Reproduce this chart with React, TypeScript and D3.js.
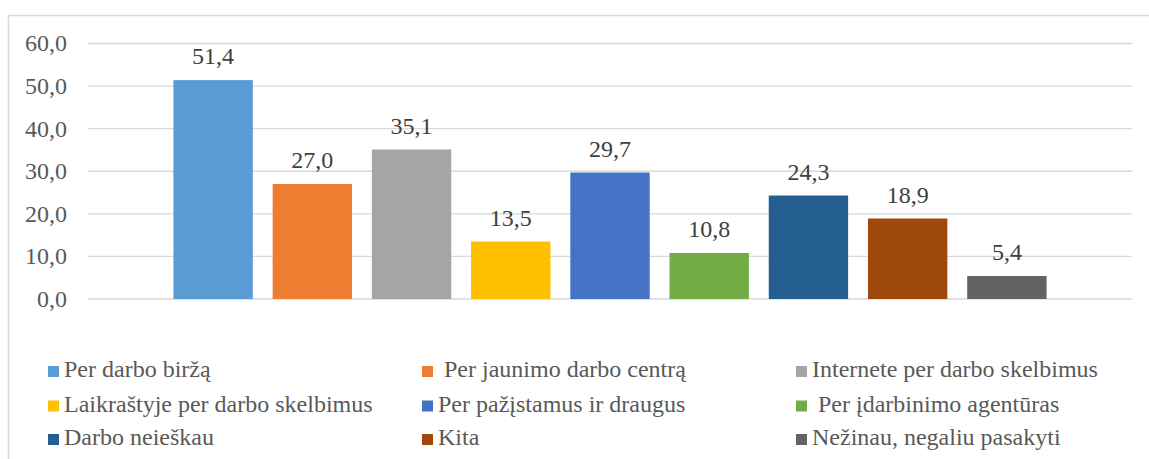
import React from "react";
import * as d3 from "d3";

const categories = [
  "Per darbo biržą",
  " Per jaunimo darbo centrą",
  "Internete per darbo skelbimus",
  "Laikraštyje per darbo skelbimus",
  "Per pažįstamus ir draugus",
  " Per įdarbinimo agentūras",
  "Darbo neieškau",
  "Kita",
  "Nežinau, negaliu pasakyti",
];
const values = [51.4, 27.0, 35.1, 13.5, 29.7, 10.8, 24.3, 18.9, 5.4];
const colors = ["#5B9BD5", "#ED7D31", "#A5A5A5", "#FFC000", "#4472C4", "#70AD47", "#255E91", "#9E480E", "#636363"];
const yTicks = [0, 10, 20, 30, 40, 50, 60];

const W = 1149;
const H = 459;
const font = "'Liberation Serif', 'Times New Roman', serif";
const textColor = "#595959";
const FS = 24;

export default function App() {
  const plotLeft = 88;
  const plotRight = 1132;
  const y = d3.scaleLinear().domain([0, 60]).range([299, 43.5]);
  const center = (plotLeft + plotRight) / 2;
  const half = 446.5;
  const x = d3
    .scaleBand<string>()
    .domain(categories)
    .range([center - half, center + half])
    .paddingInner(0.2)
    .paddingOuter(0.1);
  const fmt = (v: number) => v.toFixed(1).replace(".", ",");

  const legendCols = [48, 422, 796];
  const legendRows = [377, 411.5, 445];

  return (
    <svg width={W} height={H} style={{ position: "absolute", left: 0, top: 0, fontFamily: font }}>
      <rect x={0} y={0} width={W} height={H} fill="#fff" />
      <rect x={8.5} y={15.5} width={W + 10} height={H + 10} fill="none" stroke="#D9D9D9" strokeWidth={1.5} />
      {yTicks.map((t) => (
        <g key={t}>
          <line x1={plotLeft} x2={plotRight} y1={y(t)} y2={y(t)} stroke="#D9D9D9" strokeWidth={1.3} />
          <text x={67} y={y(t)} dy="0.33em" textAnchor="end" fontSize={FS} fill={textColor} style={{ fontFamily: font }}>
            {fmt(t)}
          </text>
        </g>
      ))}
      {categories.map((c, i) => (
        <g key={c}>
          <rect x={x(c)} y={y(values[i])} width={x.bandwidth()} height={y(0) - y(values[i])} fill={colors[i]} />
          <text
            x={(x(c) as number) + x.bandwidth() / 2}
            y={y(values[i]) - 16}
            textAnchor="middle"
            fontSize={FS}
            fill="#404040"
            style={{ fontFamily: font }}
          >
            {fmt(values[i])}
          </text>
        </g>
      ))}
      {categories.map((c, i) => {
        const col = i % 3;
        const row = Math.floor(i / 3);
        const lx = legendCols[col];
        const ly = legendRows[row];
        return (
          <g key={"l" + c}>
            <rect x={lx} y={ly - 11} width={11} height={11} fill={colors[i]} />
            <text x={lx + 16} y={ly} fontSize={FS} fill={textColor} style={{ whiteSpace: "pre", fontFamily: font }}>
              {c}
            </text>
          </g>
        );
      })}
    </svg>
  );
}
